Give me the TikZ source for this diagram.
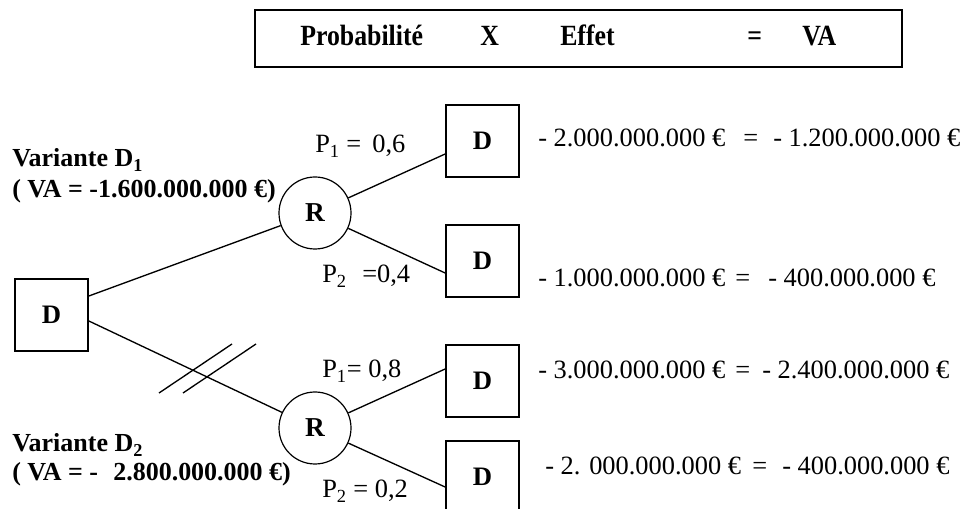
\documentclass[tikz,border=0pt]{standalone}
\usepackage{fontspec}
\setmainfont{Liberation Serif}
\usetikzlibrary{calc}
\tikzset{
  dbox/.style={draw, line width=1.3pt, minimum width=54.75pt, minimum height=54pt, inner sep=0pt, font=\fontsize{20}{24}\selectfont\bfseries},
  rnode/.style={draw, circle, line width=0.9pt, minimum size=54pt, inner sep=0pt, font=\fontsize{20.5}{24}\selectfont\bfseries},
  conn/.style={line width=1pt},
  txt/.style={anchor=base west, inner sep=0pt, font=\fontsize{19.8}{24}\selectfont},
  btxt/.style={anchor=base west, inner sep=0pt, font=\fontsize{19.5}{24}\selectfont\bfseries},
  htxt/.style={anchor=base west, inner sep=0pt, font=\fontsize{22}{24}\selectfont\bfseries},
}
\begin{document}
\begin{tikzpicture}[x=0.75pt,y=-0.75pt]
\clip (0,0) rectangle (961,509);
\fill[white] (0,0) rectangle (961,509);

% header box
\node[draw, line width=1.5pt, minimum width=485pt, minimum height=42.75pt, inner sep=0pt] (hdr) at (578.5,38.5) {};
\node[htxt] (h1) at (300,46) {\scalebox{0.88}[1]{Probabilité}};
\node[htxt] (h2) at (480,46) {\scalebox{0.88}[1]{X}};
\node[htxt] (h3) at (560,46) {\scalebox{0.88}[1]{Effet}};
\node[htxt] (h4) at (747,46) {\scalebox{0.88}[1]{=}};
\node[htxt] (h5) at (802,46) {\scalebox{0.88}[1]{VA}};

% nodes
\node[dbox] (D0) at (51.5,315) {D};
\node[rnode] (R1) at (315,213) {R};
\node[rnode] (R2) at (315,428) {R};
\node[dbox] (B1) at (482.5,141) {D};
\node[dbox] (B2) at (482.5,261) {D};
\node[dbox] (B3) at (482.5,381) {D};
\node[dbox] (B4) at (482.5,477) {D};

% connectors
\coordinate (d0u) at ($(D0.east)+(0,-19)$);
\coordinate (d0l) at ($(D0.east)+(0,6)$);
\draw[conn] (d0u) -- (R1);
\draw[conn] (d0l) -- (R2);
\draw[conn] (R1) -- ($(B1.west)+(0,13)$);
\draw[conn] (R1) -- ($(B2.west)+(0,12)$);
\draw[conn] (R2) -- ($(B3.west)+(0,-12)$);
\draw[conn] (R2) -- ($(B4.west)+(0,10)$);

% break marks
\coordinate (m1a) at (159,393); \coordinate (m1b) at (232,344);
\coordinate (m2a) at (183,393); \coordinate (m2b) at (256,344);
\draw[conn] (m1a) -- (m1b);
\draw[conn] (m2a) -- (m2b);

% probability labels
\node[txt] (p1) at (315,153) {P\textsubscript{1} =\, 0,6};
\node[txt] (p2) at (322,283) {P\textsubscript{2}\,\, =0,4};
\node[txt] (p3) at (322,378) {P\textsubscript{1}= 0,8};
\node[txt] (p4) at (322,498) {P\textsubscript{2} = 0,2};

% variant labels
\node[btxt] (v1) at (12,167) {Variante D\textsubscript{1}};
\node[btxt] (v1b) at (12,198) {( VA = -1.600.000.000 €)};
\node[btxt] (v2) at (12,452) {Variante D\textsubscript{2}};
\node[btxt] (v2b) at (12,481) {( VA = -\,\, 2.800.000.000 €)};

% effects
\node[txt] (e1a) at (538,147) {- 2.000.000.000 €};
\node[txt] (e1b) at (743,147) {=};
\node[txt] (e1c) at (773,147) {- 1.200.000.000 €};
\node[txt] (e2a) at (538,287) {- 1.000.000.000 €};
\node[txt] (e2b) at (735,287) {=};
\node[txt] (e2c) at (768,287) {- 400.000.000 €};
\node[txt] (e3a) at (538,379) {- 3.000.000.000 €};
\node[txt] (e3b) at (735,379) {=};
\node[txt] (e3c) at (762,379) {- 2.400.000.000 €};
\node[txt] (e4a) at (545,475) {- 2. 000.000.000 €};
\node[txt] (e4b) at (752,475) {=};
\node[txt] (e4c) at (782,475) {- 400.000.000 €};
\end{tikzpicture}
\end{document}
